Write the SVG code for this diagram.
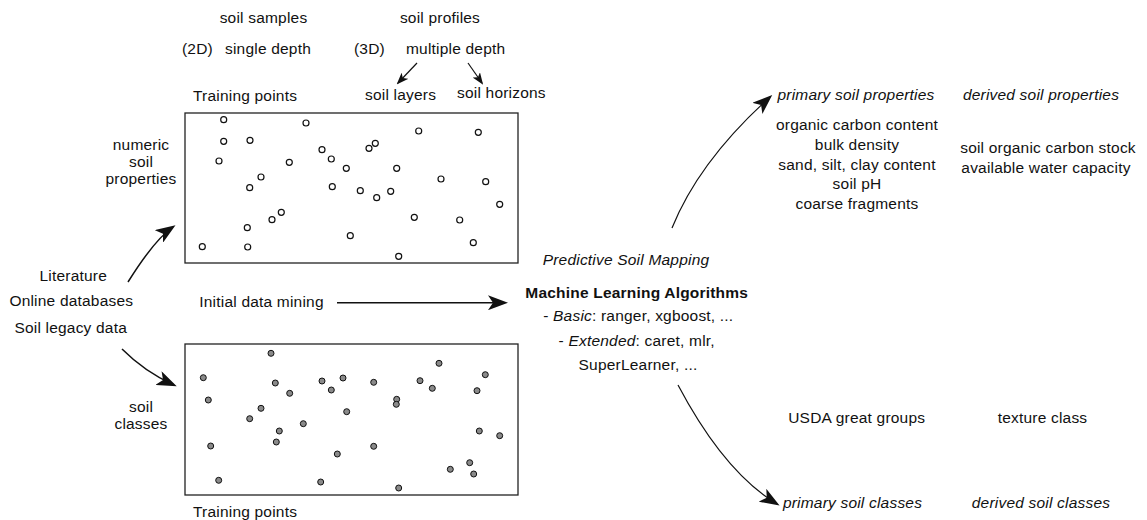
<svg xmlns="http://www.w3.org/2000/svg" width="1147" height="520" viewBox="0 0 1147 520">
<style>
text{font-family:"Liberation Sans",Arial,sans-serif;font-size:15.5px;letter-spacing:0.2px;fill:#111}
.m{text-anchor:middle}
.i{font-style:italic}
.b{font-weight:bold}
.box{fill:#fff;stroke:#222;stroke-width:1.3}
.po{fill:#fff;stroke:#111;stroke-width:1.2}
.pf{fill:#8a8a8a;stroke:#111;stroke-width:1}
.c{fill:none;stroke:#111;stroke-width:1.5}
.cs{fill:none;stroke:#111;stroke-width:1.2}
</style>
<defs>
<marker id="ah" markerUnits="userSpaceOnUse" markerWidth="21" markerHeight="15" refX="17" refY="7.5" orient="auto" viewBox="0 0 21 15">
<path d="M0,0 L20,7.5 L0,15 L5,7.5 z" fill="#111"/>
</marker>
<marker id="as" markerUnits="userSpaceOnUse" markerWidth="12" markerHeight="9" refX="10" refY="4.5" orient="auto" viewBox="0 0 12 9">
<path d="M0,0 L12,4.5 L0,9 L3,4.5 z" fill="#111"/>
</marker>
</defs>

<g id="header">
<text class="m" x="263.5" y="23">soil samples</text>
<text class="m" x="440" y="23">soil profiles</text>
<text x="182" y="54">(2D)</text>
<text x="225" y="54">single depth</text>
<text x="354" y="54">(3D)</text>
<text x="406" y="54">multiple depth</text>
<text x="365" y="100">soil layers</text>
<text x="457" y="98">soil horizons</text>
</g>

<g id="numeric-box">
<text x="193" y="101">Training points</text>
<rect class="box" x="185" y="113" width="333" height="150"/>
<g>
<circle class="po" cx="223.7" cy="119.7" r="3"/>
<circle class="po" cx="306" cy="123" r="3"/>
<circle class="po" cx="418.7" cy="131" r="3"/>
<circle class="po" cx="478.3" cy="132.3" r="3"/>
<circle class="po" cx="223.7" cy="141.3" r="3"/>
<circle class="po" cx="250" cy="140.3" r="3"/>
<circle class="po" cx="375.3" cy="143.3" r="3"/>
<circle class="po" cx="369" cy="148.3" r="3"/>
<circle class="po" cx="322" cy="149.7" r="3"/>
<circle class="po" cx="219" cy="161" r="3"/>
<circle class="po" cx="331.3" cy="159" r="3"/>
<circle class="po" cx="289.3" cy="162.3" r="3"/>
<circle class="po" cx="346.3" cy="168.3" r="3"/>
<circle class="po" cx="396.7" cy="168.3" r="3"/>
<circle class="po" cx="261" cy="177" r="3"/>
<circle class="po" cx="441" cy="179" r="3"/>
<circle class="po" cx="485.7" cy="181.7" r="3"/>
<circle class="po" cx="249.7" cy="187.7" r="3"/>
<circle class="po" cx="332.3" cy="186.7" r="3"/>
<circle class="po" cx="360.3" cy="190.7" r="3"/>
<circle class="po" cx="390.7" cy="191.3" r="3"/>
<circle class="po" cx="376.7" cy="197.7" r="3"/>
<circle class="po" cx="499.7" cy="204.3" r="3"/>
<circle class="po" cx="281.3" cy="212.3" r="3"/>
<circle class="po" cx="272" cy="219.7" r="3"/>
<circle class="po" cx="414.3" cy="217.3" r="3"/>
<circle class="po" cx="459.7" cy="220" r="3"/>
<circle class="po" cx="247.3" cy="227.7" r="3"/>
<circle class="po" cx="350.3" cy="235.7" r="3"/>
<circle class="po" cx="473.3" cy="242.7" r="3"/>
<circle class="po" cx="202.3" cy="246.7" r="3"/>
<circle class="po" cx="247.7" cy="247" r="3"/>
<circle class="po" cx="398.7" cy="256.3" r="3"/>
</g>
</g>

<g id="numeric-label">
<text class="m" x="141" y="150">numeric</text>
<text class="m" x="141" y="167">soil</text>
<text class="m" x="141" y="184">properties</text>
</g>

<g id="sources">
<text class="m" x="73.3" y="281">Literature</text>
<text class="m" x="71.3" y="306">Online databases</text>
<text class="m" x="70.7" y="333">Soil legacy data</text>
</g>

<g id="mining">
<text x="199.3" y="307">Initial data mining</text>
</g>

<g id="classes-label">
<text class="m" x="141" y="412">soil</text>
<text class="m" x="141" y="429">classes</text>
</g>

<g id="classes-box">
<rect class="box" x="185" y="344" width="333" height="151"/>
<g>
<circle class="pf" cx="271" cy="353.3" r="3"/>
<circle class="pf" cx="439" cy="363.3" r="3"/>
<circle class="pf" cx="203.3" cy="377.7" r="3"/>
<circle class="pf" cx="485.3" cy="374.7" r="3"/>
<circle class="pf" cx="343" cy="378" r="3"/>
<circle class="pf" cx="322" cy="381" r="3"/>
<circle class="pf" cx="275.3" cy="383" r="3"/>
<circle class="pf" cx="373.7" cy="382.3" r="3"/>
<circle class="pf" cx="420" cy="380.7" r="3"/>
<circle class="pf" cx="331.3" cy="390" r="3"/>
<circle class="pf" cx="432.3" cy="388.3" r="3"/>
<circle class="pf" cx="477" cy="390.7" r="3"/>
<circle class="pf" cx="289.7" cy="393.3" r="3"/>
<circle class="pf" cx="208.3" cy="400" r="3"/>
<circle class="pf" cx="396.7" cy="399.3" r="3"/>
<circle class="pf" cx="396.3" cy="404.3" r="3"/>
<circle class="pf" cx="346.7" cy="411.7" r="3"/>
<circle class="pf" cx="261" cy="408.3" r="3"/>
<circle class="pf" cx="249.7" cy="418.7" r="3"/>
<circle class="pf" cx="303.3" cy="423.7" r="3"/>
<circle class="pf" cx="279.3" cy="431" r="3"/>
<circle class="pf" cx="479.3" cy="431" r="3"/>
<circle class="pf" cx="499.7" cy="435.7" r="3"/>
<circle class="pf" cx="276.3" cy="442" r="3"/>
<circle class="pf" cx="210.7" cy="446" r="3"/>
<circle class="pf" cx="373.7" cy="446.3" r="3"/>
<circle class="pf" cx="337.3" cy="454" r="3"/>
<circle class="pf" cx="469.7" cy="462.7" r="3"/>
<circle class="pf" cx="450.3" cy="469.3" r="3"/>
<circle class="pf" cx="473.7" cy="474" r="3"/>
<circle class="pf" cx="218.7" cy="480.3" r="3"/>
<circle class="pf" cx="320.7" cy="482" r="3"/>
<circle class="pf" cx="398.7" cy="488" r="3"/>
</g>
<text x="193" y="517">Training points</text>
</g>

<g id="psm">
<text class="m i" x="626" y="265">Predictive Soil Mapping</text>
<text class="m b" x="636.7" y="298">Machine Learning Algorithms</text>
<text class="m" x="638.3" y="321">- <tspan class="i">Basic</tspan>: ranger, xgboost, ...</text>
<text class="m" x="636.7" y="346">- <tspan class="i">Extended</tspan>: caret, mlr,</text>
<text class="m" x="638" y="370">SuperLearner, ...</text>
</g>

<g id="primary-properties">
<text class="m i" x="856" y="100">primary soil properties</text>
<text class="m" x="857" y="130">organic carbon content</text>
<text class="m" x="857" y="150">bulk density</text>
<text class="m" x="857" y="169.5">sand, silt, clay content</text>
<text class="m" x="857" y="189">soil pH</text>
<text class="m" x="857" y="208.5">coarse fragments</text>
</g>

<g id="derived-properties">
<text class="m i" x="1041" y="100">derived soil properties</text>
<text class="m" x="1048" y="153">soil organic carbon stock</text>
<text class="m" x="1046" y="173">available water capacity</text>
</g>

<g id="primary-classes">
<text class="m" x="856.7" y="423">USDA great groups</text>
<text class="m i" x="852.5" y="508">primary soil classes</text>
</g>

<g id="derived-classes">
<text class="m" x="1042.5" y="423">texture class</text>
<text class="m i" x="1041" y="508">derived soil classes</text>
</g>

<g id="connectors">
<path class="cs" d="M417,63 L398,83" marker-end="url(#as)"/>
<path class="cs" d="M468,63 L482,83" marker-end="url(#as)"/>
<path class="c" d="M128,282 Q155,239 173,227" marker-end="url(#ah)"/>
<path class="c" d="M122,349 Q145,372 174,385" marker-end="url(#ah)"/>
<path class="c" d="M337,302.7 L505,302.7" marker-end="url(#ah)"/>
<path class="cs" d="M672,228 Q699,161 770,97" marker-end="url(#ah)"/>
<path class="cs" d="M678,385 Q724,472 777,504" marker-end="url(#ah)"/>
</g>
</svg>
